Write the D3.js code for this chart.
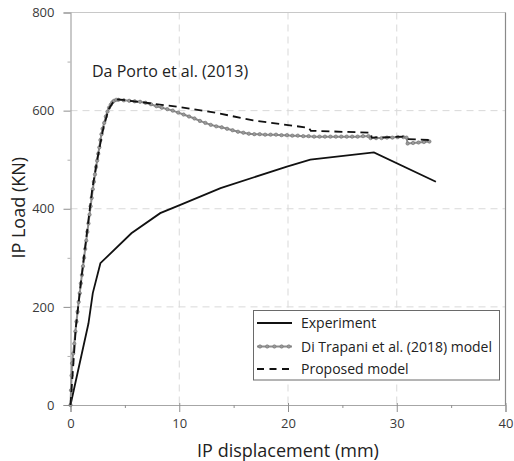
<!DOCTYPE html>
<html>
<head>
<meta charset="utf-8">
<script src="https://cdn.jsdelivr.net/npm/d3@7"></script>
<style>
  html, body { margin: 0; padding: 0; background: #fff; }
  svg { display: block; font-family: "Open Sans", "Noto Sans", sans-serif; }
</style>
</head>
<body>
<svg id="chart" width="514" height="461"></svg>
<script>
// Load–displacement curves: experiment vs. two numerical models
const experimentDisp = [0, 1.65, 2.05, 2.75, 5.6, 8.25, 10.1, 13.8, 19.9, 22.05, 27.9, 33.6];
const experimentLoad = [0, 166, 228, 289, 350, 391, 408, 442, 486, 500, 515, 455];

const diTrapaniDisp = [
  0, 0.05, 0.1, 0.15, 0.25, 0.35, 0.45, 0.55, 0.65, 0.75, 0.85, 0.95, 1.05, 1.15, 1.25,
  1.35, 1.45, 1.55, 1.65, 1.75, 1.85, 1.95, 2.05, 2.15, 2.25, 2.35, 2.45, 2.55, 2.65,
  2.75, 2.85, 2.95, 3.1, 3.25, 3.4, 3.55, 3.7, 3.85, 4.0, 4.2, 4.4,
  4.9, 5.4, 5.9, 6.4, 6.9, 7.4, 7.9, 8.4, 8.9, 9.4, 9.9, 10.4, 10.9, 11.4, 11.9, 12.4,
  12.9, 13.4, 13.9, 14.4, 14.9, 15.4, 15.9, 16.4, 16.9, 17.4, 17.9, 18.4, 18.9, 19.4,
  19.9, 20.4, 20.9, 21.4, 21.9, 22.4, 22.9, 23.4, 23.9, 24.4, 24.9, 25.4, 25.9, 26.4,
  26.9, 27.4, 27.6, 28.1, 28.6, 29.1, 29.6, 30.1, 30.6, 30.9, 31.0, 31.5, 32.0, 32.5, 33.0
];
const diTrapaniLoad = [
  0, 30, 60, 85, 105, 125, 150, 170, 190, 210, 228, 248, 265, 283, 300,
  318, 335, 353, 370, 388, 405, 422, 440, 455, 470, 485, 498, 512, 525,
  540, 552, 563, 575, 588, 598, 606, 612, 617, 620, 622, 622,
  621, 620, 619, 618, 616, 613, 609, 606, 603, 600, 596, 592, 588, 584, 579, 575,
  571, 568, 566, 563, 560, 557, 555, 553, 552, 552, 551, 551, 551, 550,
  550, 549, 549, 548, 548, 547, 547, 547, 547, 547, 547, 547, 547, 547,
  548, 548, 544, 544, 544, 545, 545, 546, 546, 545, 533, 534, 535, 536, 537
];

const proposedDisp = [0, 0.5, 1.0, 1.5, 2.0, 2.5, 3.0, 3.5, 4.0, 4.4, 7.3, 10.1, 13.5, 16.8, 21.9, 22.1, 27.6, 27.7, 30.6, 31.0, 33.1];
const proposedLoad = [0, 160, 258, 350, 440, 505, 562, 603, 620, 623, 615, 607, 595, 580, 565, 559, 555, 545, 547, 542, 540];

const xMajorTicks = [0, 10, 20, 30, 40];
const xMinorTicks = [5, 15, 25, 35];
const yMajorTicks = [0, 200, 400, 600, 800];
const yMinorTicks = [100, 300, 500, 700];

const legendLabels = ["Experiment", "Di Trapani et al. (2018) model", "Proposed model"];
const annotation = "Da Porto et al. (2013)";

const svg = d3.select("#chart");
const plot = { left: 70.5, right: 505.5, top: 12.5, bottom: 405 };

const x = d3.scaleLinear().domain([0, 40]).range([plot.left, plot.right]);
const y = d3.scaleLinear().domain([0, 800]).range([plot.bottom, plot.top]);

const toPoints = (xs, ys) => xs.map((d, i) => [d, ys[i]]);
const line = d3.line().x(d => x(d[0])).y(d => y(d[1]));

// dashed grid
const grid = svg.append("g");
grid.selectAll("line.v").data(xMajorTicks.filter(t => t > 0 && t < 40)).join("line")
  .attr("x1", d => x(d)).attr("x2", d => x(d))
  .attr("y1", plot.top).attr("y2", plot.bottom)
  .attr("stroke", "#d9d9d9").attr("stroke-width", 1).attr("stroke-dasharray", "7,5");
grid.selectAll("line.h").data(yMajorTicks.filter(t => t > 0 && t < 800)).join("line")
  .attr("x1", plot.left).attr("x2", plot.right)
  .attr("y1", d => y(d)).attr("y2", d => y(d))
  .attr("stroke", "#d9d9d9").attr("stroke-width", 1).attr("stroke-dasharray", "7,5");

// frame: top and right edges
svg.append("line").attr("x1", plot.left).attr("x2", plot.right)
  .attr("y1", y(800)).attr("y2", y(800)).attr("stroke", "#c8c8c8").attr("stroke-width", 1.2);
svg.append("line").attr("x1", x(40)).attr("x2", x(40))
  .attr("y1", plot.top).attr("y2", plot.bottom).attr("stroke", "#8a8a8a").attr("stroke-width", 1.2);

// axes
const axisColor = "#a6a6a6";
const textColor = "#3a3a3a";

const xAxis = svg.append("g").attr("transform", `translate(0,${plot.bottom})`)
  .call(d3.axisBottom(x).tickValues(xMajorTicks).tickSize(7).tickPadding(7).tickFormat(d3.format("d")));
const yAxis = svg.append("g").attr("transform", `translate(${plot.left},0)`)
  .call(d3.axisLeft(y).tickValues(yMajorTicks).tickSize(7).tickPadding(9).tickFormat(d3.format("d")));
[xAxis, yAxis].forEach(g => {
  g.select(".domain").attr("stroke", axisColor).attr("stroke-width", 1.2);
  g.selectAll(".tick line").attr("stroke", "#8f8f8f");
  g.selectAll(".tick text").attr("fill", textColor).attr("font-size", 13)
    .attr("font-family", "'Open Sans', sans-serif");
});
xAxis.selectAll(".tick line").attr("y1", -2);

svg.append("g").attr("transform", `translate(0,${plot.bottom})`)
  .call(d3.axisBottom(x).tickValues(xMinorTicks).tickSize(3).tickFormat(""))
  .call(g => g.select(".domain").remove())
  .call(g => g.selectAll(".tick line").attr("stroke", "#8f8f8f"));
svg.append("g").attr("transform", `translate(${plot.left},0)`)
  .call(d3.axisLeft(y).tickValues(yMinorTicks).tickSize(3).tickFormat(""))
  .call(g => g.select(".domain").remove())
  .call(g => g.selectAll(".tick line").attr("stroke", "#b0b0b0"));

// axis titles
svg.append("text").attr("x", (plot.left + plot.right) / 2).attr("y", 457)
  .attr("text-anchor", "middle").attr("font-size", 18).attr("fill", "#222")
  .text("IP displacement (mm)");
svg.append("text").attr("transform", `translate(25,${y(400) - 1}) rotate(-90)`)
  .attr("text-anchor", "middle").attr("font-size", 18).attr("fill", "#222")
  .text("IP Load (KN)");

// annotation
svg.append("text").attr("x", 92).attr("y", 77).attr("font-size", 16).attr("fill", "#222")
  .text(annotation);

// series
const expPts = toPoints(experimentDisp, experimentLoad);
const dtPts = toPoints(diTrapaniDisp, diTrapaniLoad);
const prPts = toPoints(proposedDisp, proposedLoad);

svg.append("path").datum(expPts).attr("d", line)
  .attr("fill", "none").attr("stroke", "#111").attr("stroke-width", 1.8);

svg.append("path").datum(dtPts).attr("d", line)
  .attr("fill", "none").attr("stroke", "#8c8c8c").attr("stroke-width", 2);
svg.append("g").selectAll("circle").data(dtPts).join("circle")
  .attr("cx", d => x(d[0])).attr("cy", d => y(d[1])).attr("r", 1.7)
  .attr("fill", "#9a9a9a").attr("stroke", "#6e6e6e").attr("stroke-width", 0.6);

svg.append("path").datum(prPts).attr("d", line)
  .attr("fill", "none").attr("stroke", "#111").attr("stroke-width", 1.8)
  .attr("stroke-dasharray", "8,5");

// legend
const lg = svg.append("g");
lg.append("rect").attr("x", 253.5).attr("y", 310.5).attr("width", 246).attr("height", 69.5)
  .attr("fill", "#fff").attr("stroke", "#6a6a6a").attr("stroke-width", 1);
const rowY = [323, 346.5, 369];
const lx1 = 257, lx2 = 292;
lg.append("line").attr("x1", lx1).attr("x2", lx2).attr("y1", rowY[0]).attr("y2", rowY[0])
  .attr("stroke", "#111").attr("stroke-width", 1.8);
lg.append("line").attr("x1", lx1).attr("x2", lx2).attr("y1", rowY[1]).attr("y2", rowY[1])
  .attr("stroke", "#8c8c8c").attr("stroke-width", 2);
lg.append("g").selectAll("circle").data(d3.range(5)).join("circle")
  .attr("cx", i => lx1 + 3 + i * 7.2).attr("cy", rowY[1]).attr("r", 1.7)
  .attr("fill", "#9a9a9a").attr("stroke", "#6e6e6e").attr("stroke-width", 0.6);
lg.append("line").attr("x1", lx1).attr("x2", lx2).attr("y1", rowY[2]).attr("y2", rowY[2])
  .attr("stroke", "#111").attr("stroke-width", 1.8).attr("stroke-dasharray", "7,5.5");
lg.selectAll("text").data(legendLabels).join("text")
  .attr("x", 301).attr("y", (d, i) => rowY[i] + 5)
  .attr("font-size", 14).attr("fill", "#222").text(d => d);
</script>
</body>
</html>
